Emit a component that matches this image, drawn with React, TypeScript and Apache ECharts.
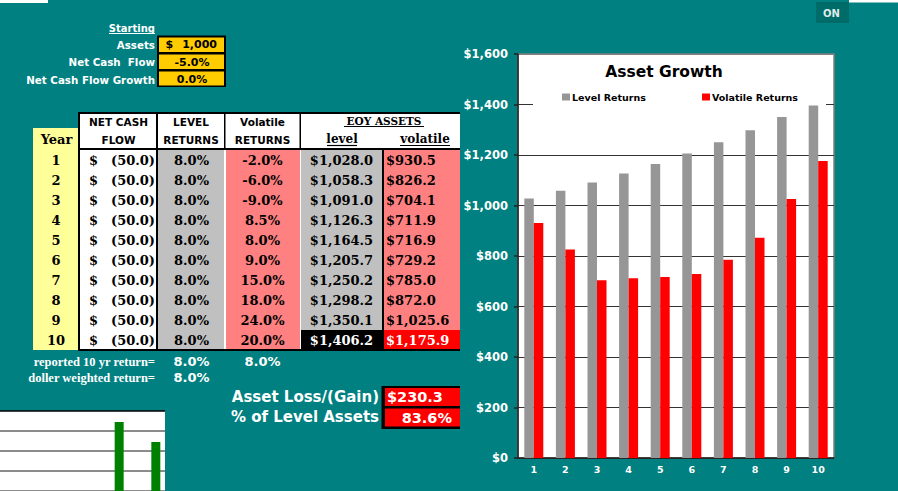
import React, { useEffect, useRef } from "react";
import * as echarts from "echarts";

// ---------- data ----------
const years = ["1", "2", "3", "4", "5", "6", "7", "8", "9", "10"];
const netCashFlow = [-50, -50, -50, -50, -50, -50, -50, -50, -50, -50];
const levelReturns = [8.0, 8.0, 8.0, 8.0, 8.0, 8.0, 8.0, 8.0, 8.0, 8.0];
const volatileReturns = [-2.0, -6.0, -9.0, 8.5, 8.0, 9.0, 15.0, 18.0, 24.0, 20.0];
const eoyLevel = [1028.0, 1058.3, 1091.0, 1126.3, 1164.5, 1205.7, 1250.2, 1298.2, 1350.1, 1406.2];
const eoyVolatile = [930.5, 826.2, 704.1, 711.9, 716.9, 729.2, 785.0, 872.0, 1025.6, 1175.9];

const startingAssets = 1000;
const startingNetCashFlow = -5.0;
const startingNetCashFlowGrowth = 0.0;
const reportedReturns = [8.0, 8.0];
const dollarWeightedReturn = 8.0;

const seriesNames = ["Level Returns", "Volatile Returns"];
const yTickMax = 1600;
const yTickStep = 200;

// small partial chart at bottom-left
const miniCategories = ["a", "b", "c", "d", "e", "f", "g", "h", "i"];
const miniValues = [null, null, null, null, null, null, 3.45, null, 2.45];

// ---------- helpers ----------
const SANS = '"DejaVu Sans"';
const SERIF = '"DejaVu Serif"';
const SERIF2 = '"Liberation Serif"';

const fmt1 = (v: number) =>
  v.toLocaleString("en-US", { minimumFractionDigits: 1, maximumFractionDigits: 1 });
const pct = (v: number) => `${v.toFixed(1)}%`;

function buildGraphic() {
  const els: any[] = [];
  const rect = (x: number, y: number, w: number, h: number, fill: string, z = 0) =>
    els.push({ type: "rect", silent: true, z, shape: { x, y, width: w, height: h }, style: { fill } });
  const line = (x1: number, y1: number, x2: number, y2: number, stroke: string, w = 1) =>
    els.push({ type: "line", silent: true, z: 6, shape: { x1, y1, x2, y2 }, style: { stroke, lineWidth: w } });
  const text = (
    x: number,
    y: number,
    t: string,
    size: number,
    o: { fill?: string; family?: string; align?: string } = {}
  ) =>
    els.push({
      type: "text",
      silent: true,
      z: 7,
      x,
      y,
      style: {
        text: t,
        fill: o.fill ?? "#fff",
        font: `bold ${size}px ${o.family ?? SANS}`,
        textAlign: o.align ?? "left",
        textVerticalAlign: "middle",
        align: o.align ?? "left",
        verticalAlign: "middle",
      },
    });

  // top strips
  rect(0, 0, 48, 3, "#fff");
  rect(849, 0, 49, 2.5, "#fff");
  rect(816, 2, 33, 21, "#006c69");
  text(823, 13, "ON", 10, { fill: "#dfeaea" });

  // Starting block
  text(155, 28, "Starting", 10, { align: "right" });
  line(109, 33.5, 155, 33.5, "#fff", 1.2);
  text(155, 45, "Assets", 10.3, { align: "right" });
  text(155, 62, "Net Cash  Flow", 10.3, { align: "right" });
  text(155, 80, "Net Cash Flow Growth", 10.3, { align: "right" });
  rect(157, 35.5, 69, 51.5, "#000");
  rect(159, 37.5, 65, 14.5, "#FFCC00");
  rect(159, 54.5, 65, 14.5, "#FFCC00");
  rect(159, 71.5, 65, 14, "#FFCC00");
  text(165.5, 44.5, "$", 11, { fill: "#000" });
  text(217, 44.5, startingAssets.toLocaleString("en-US"), 11, { fill: "#000", align: "right" });
  text(192, 62, pct(startingNetCashFlow), 11, { fill: "#000", align: "center" });
  text(192, 79, pct(startingNetCashFlowGrowth), 11, { fill: "#000", align: "center" });

  // table backgrounds
  rect(78, 112, 382, 238, "#fff");
  rect(33, 128, 45, 222, "#FFFF99");
  const top = 150;
  const rowH = 20;
  const n = years.length;
  rect(158, top, 66, rowH * n, "#C0C0C0");
  rect(226, top, 74, rowH * n, "#FF8080");
  rect(301, top, 81, rowH * (n - 1), "#C0C0C0");
  rect(384, top, 76, rowH * (n - 1), "#FF8080");
  rect(301, top + rowH * (n - 1), 81, rowH, "#000");
  rect(384, top + rowH * (n - 1), 76, rowH, "#FF0000");
  // borders
  rect(78, 112, 2, 238, "#000");
  rect(156, 112, 2, 238, "#000");
  rect(382, 150, 2, 200, "#000");
  rect(224, 112, 1.5, 38, "#000");
  rect(299.5, 112, 1.5, 38, "#000");
  rect(78, 112, 382, 2, "#000");
  rect(78, 148, 382, 2, "#000");
  rect(78, 349, 382, 2, "#000");

  // header
  text(118.5, 121.5, "NET CASH", 10.5, { fill: "#000", align: "center" });
  text(118.5, 140, "FLOW", 10.5, { fill: "#000", align: "center" });
  text(191, 121.5, "LEVEL", 10.5, { fill: "#000", align: "center" });
  text(191, 140, "RETURNS", 10.5, { fill: "#000", align: "center" });
  text(262.5, 121.5, "Volatile", 10.5, { fill: "#000", align: "center" });
  text(262.5, 140, "RETURNS", 10.5, { fill: "#000", align: "center" });
  text(384, 120.5, "EOY ASSETS", 10.5, { fill: "#000", align: "center", family: SERIF });
  line(344, 126.5, 424, 126.5, "#000", 1.2);
  text(342, 139, "level", 12, { fill: "#000", align: "center", family: SERIF });
  line(327, 145.5, 357, 145.5, "#000", 1.2);
  text(425, 139, "volatile", 12, { fill: "#000", align: "center", family: SERIF });
  line(400, 145.5, 450, 145.5, "#000", 1.2);
  text(56.5, 139, "Year", 13, { fill: "#000", align: "center", family: SERIF });

  // rows
  for (let i = 0; i < n; i++) {
    const y = top + rowH * i + rowH / 2;
    const last = i === n - 1;
    text(56, y, years[i], 13, { fill: "#000", align: "center", family: SERIF });
    text(89, y, "$", 13, { fill: "#000", family: SERIF });
    const nc = netCashFlow[i];
    text(155, y, nc < 0 ? `(${fmt1(Math.abs(nc))})` : fmt1(nc), 13, { fill: "#000", align: "right", family: SERIF });
    text(191.5, y, pct(levelReturns[i]), 13, { fill: "#000", align: "center", family: SERIF });
    text(262.5, y, pct(volatileReturns[i]), 13, { fill: "#000", align: "center", family: SERIF });
    text(341.5, y, `$${fmt1(eoyLevel[i])}`, 13, { fill: last ? "#fff" : "#000", align: "center", family: SERIF });
    text(386, y, `$${fmt1(eoyVolatile[i])}`, 13, { fill: last ? "#fff" : "#000", family: SERIF });
  }

  // below table
  text(155, 361.5, "reported 10 yr return=", 12.5, { align: "right", family: SERIF2 });
  text(191.5, 361.5, pct(reportedReturns[0]), 13);
  text(262.5, 361.5, pct(reportedReturns[1]), 13);
  els[els.length - 2].style.textAlign = "center";
  els[els.length - 2].style.align = "center";
  els[els.length - 1].style.textAlign = "center";
  els[els.length - 1].style.align = "center";
  text(155, 377.5, "doller weighted return=", 12.5, { align: "right", family: SERIF2 });
  text(191.5, 377.5, pct(dollarWeightedReturn), 13, { align: "center" });

  // asset loss block
  const lastL = eoyLevel[n - 1];
  const lastV = eoyVolatile[n - 1];
  text(379, 396.5, "Asset Loss/(Gain)", 15, { align: "right" });
  text(379, 417, "% of Level Assets", 15, { align: "right" });
  rect(381.5, 386, 78.5, 43, "#000");
  rect(385, 388, 75, 18, "#FF0000");
  rect(385, 408.5, 75, 18, "#FF0000");
  text(387, 397, `$${fmt1(lastL - lastV)}`, 14.5);
  text(452, 417.5, pct((lastV / lastL) * 100), 14.5, { align: "right" });

  // legend box covering the $1,400 gridline (above bars, below legend)
  rect(533, 84, 293, 21.5, "#fff", 3);

  return els;
}

export default function App() {
  const ref = useRef<HTMLDivElement>(null);

  useEffect(() => {
    if (!ref.current) return;
    const chart = echarts.init(ref.current, undefined, { renderer: "svg" });
    const splitColors: string[] = [];
    for (let v = 0; v <= yTickMax; v += yTickStep) splitColors.push(v === yTickMax ? "#808080" : "#333");
    const legendText = { fontFamily: "DejaVu Sans", fontWeight: "bold", fontSize: 9.5, color: "#000", padding: [0, 0, 0, -3] };

    const option: any = {
      animation: false,
      backgroundColor: "#008080",
      title: {
        text: "Asset Growth",
        left: 664,
        top: 63,
        padding: 0,
        textAlign: "center",
        textStyle: { fontFamily: "DejaVu Sans", fontWeight: "bold", fontSize: 15.5, color: "#000", lineHeight: 18 },
      },
      legend: [
        { data: [seriesNames[0]], left: 562, top: 92, padding: 0, icon: "rect", itemWidth: 8, itemHeight: 7, textStyle: legendText },
        { data: [seriesNames[1]], left: 702, top: 92, padding: 0, icon: "rect", itemWidth: 8, itemHeight: 7, textStyle: legendText },
      ],
      grid: [
        { left: 518, top: 54, width: 316, height: 404, show: true, backgroundColor: "#fff", borderColor: "#808080", borderWidth: 1.5 },
        { left: -6, top: 411, width: 171, height: 84, show: true, backgroundColor: "#fff", borderWidth: 0 },
      ],
      xAxis: [
        {
          type: "category",
          gridIndex: 0,
          data: years,
          axisLine: { lineStyle: { color: "#222", width: 1.5 } },
          axisTick: { length: 4, lineStyle: { color: "#222", width: 1.5 } },
          axisLabel: { color: "#fff", fontFamily: "DejaVu Sans", fontWeight: "bold", fontSize: 9.5, margin: 6 },
        },
        { type: "category", gridIndex: 1, data: miniCategories, show: false },
      ],
      yAxis: [
        {
          type: "value",
          gridIndex: 0,
          min: 0,
          max: yTickMax,
          interval: yTickStep,
          axisLine: { show: true, lineStyle: { color: "#222", width: 1.5 } },
          axisTick: { show: true, length: 4, lineStyle: { color: "#222", width: 1.5 } },
          splitLine: { lineStyle: { color: splitColors, width: 1.2 } },
          axisLabel: {
            color: "#fff",
            fontFamily: "DejaVu Sans",
            fontWeight: "bold",
            fontSize: 11.5,
            margin: 10,
            formatter: (v: number) => `$${v.toLocaleString("en-US")}`,
          },
        },
        {
          type: "value",
          gridIndex: 1,
          min: 0,
          max: 4,
          interval: 1,
          axisLine: { show: false },
          axisTick: { show: false },
          axisLabel: { show: false },
          splitLine: { lineStyle: { color: ["#666", "#666", "#666", "#666", "#000"], width: 1.5 } },
        },
      ],
      series: [
        {
          type: "bar",
          name: seriesNames[0],
          data: eoyLevel,
          xAxisIndex: 0,
          yAxisIndex: 0,
          barWidth: 9.5,
          barGap: "0%",
          itemStyle: { color: "#969696" },
        },
        {
          type: "bar",
          name: seriesNames[1],
          data: eoyVolatile,
          xAxisIndex: 0,
          yAxisIndex: 0,
          barWidth: 9.5,
          barGap: "0%",
          itemStyle: { color: "#FF0000" },
        },
        {
          type: "bar",
          name: "mini",
          data: miniValues,
          xAxisIndex: 1,
          yAxisIndex: 1,
          barWidth: 9,
          itemStyle: { color: "#008000" },
        },
      ],
      graphic: { elements: buildGraphic() },
    };
    chart.setOption(option);
    return () => chart.dispose();
  }, []);

  return (
    <div
      ref={ref}
      style={{ position: "fixed", left: 0, top: 0, width: 898, height: 491, background: "#008080" }}
    />
  );
}
